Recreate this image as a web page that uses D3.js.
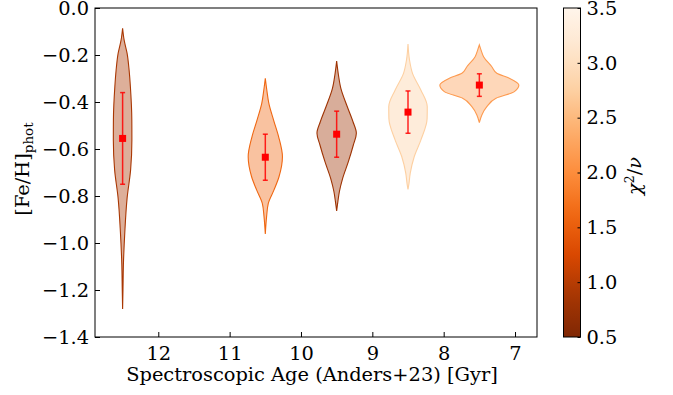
<!DOCTYPE html>
<html><head><meta charset="utf-8">
<script src="https://cdn.jsdelivr.net/npm/d3@7"></script>
<style>
body{margin:0;background:#fff}
text{font-family:"DejaVu Serif",serif;fill:#000}
</style></head>
<body><svg id="c" width="673" height="395"></svg>
<script>
// ---- data ----
const ages = [12.5, 10.5, 9.5, 8.5, 7.5];           // violin positions (Gyr)
const chi2 = [0.9, 1.6, 0.8, 2.75, 2.15];            // chi^2/nu colour values
const meanFe = [-0.555, -0.635, -0.537, -0.443, -0.328];
const errFe  = [0.195, 0.098, 0.098, 0.090, 0.048];
// violin profiles: [ [Fe/H], half width (Gyr) ]
const prof1 = [[-0.086,0],[-0.136,0.021],[-0.193,0.063],[-0.264,0.091],[-0.335,0.109],[-0.477,0.129],[-0.562,0.130],[-0.689,0.112],[-0.809,0.063],[-0.953,0.031],[-1.094,0.011],[-1.20,0.005],[-1.281,0]];
const prof2 = [[-0.299,0],[-0.349,0.021],[-0.405,0.049],[-0.477,0.116],[-0.548,0.187],[-0.633,0.240],[-0.718,0.192],[-0.774,0.122],[-0.831,0.042],[-0.888,0.018],[-0.962,0]];
const prof3 = [[-0.226,0],[-0.285,0.025],[-0.342,0.059],[-0.413,0.140],[-0.484,0.229],[-0.533,0.276],[-0.583,0.234],[-0.654,0.164],[-0.725,0.084],[-0.782,0.038],[-0.824,0.017],[-0.864,0]];
const prof4 = [[-0.153,0],[-0.221,0.021],[-0.278,0.063],[-0.349,0.180],[-0.420,0.270],[-0.470,0.268],[-0.562,0.180],[-0.633,0.087],[-0.704,0.031],[-0.746,0.014],[-0.772,0]];
const prof5 = [[-0.157,0],[-0.179,0.024],[-0.207,0.059],[-0.250,0.175],[-0.278,0.245],[-0.299,0.421],[-0.328,0.554],[-0.356,0.491],[-0.384,0.234],[-0.420,0.105],[-0.455,0.035],[-0.488,0]];
const profiles = [prof1, prof2, prof3, prof4, prof5];
const xTicks = [12, 11, 10, 9, 8, 7];
const yTicks = [0.0, -0.2, -0.4, -0.6, -0.8, -1.0, -1.2, -1.4];
const cTicks = [0.5, 1.0, 1.5, 2.0, 2.5, 3.0, 3.5];
const orangesStops = ["#fff5eb","#fee6ce","#fdd0a2","#fdae6b","#fd8d3c","#f16913","#d94801","#a63603","#7f2704"];

// ---- layout ----
const svg = d3.select("#c");
const L=95, R=537, T=8, B=337;
const x = d3.scaleLinear().domain([12.887, 6.692]).range([L, R]);
const y = d3.scaleLinear().domain([0, -1.4]).range([T, B]);
const oranges = d3.piecewise(d3.interpolateRgb, orangesStops);
const cmap = v => oranges(1 - (v - 0.5) / 3);   // Oranges_r on [0.5,3.5]
const minus = s => s.replace("-", "\u2212");

// violins
const g = svg.append("g");
profiles.forEach((p, i) => {
  const a = ages[i];
  const area = d3.area()
    .y(d => y(d[0]))
    .x0(d => x(a + d[1]))
    .x1(d => x(a - d[1]))
    .curve(d3.curveMonotoneY);
  const col = cmap(chi2[i]);
  g.append("path").attr("d", area(p))
    .attr("fill", col).attr("fill-opacity", 0.4)
    .attr("stroke", col).attr("stroke-width", 1.1);
});
// error bars
ages.forEach((a, i) => {
  const cx = x(a), y1 = y(meanFe[i] + errFe[i]), y2 = y(meanFe[i] - errFe[i]);
  const eb = g.append("g").attr("stroke", "#ff0000").attr("stroke-opacity", 0.85).attr("stroke-width", 1.5);
  eb.append("line").attr("x1", cx).attr("x2", cx).attr("y1", y1).attr("y2", y2);
  eb.append("line").attr("x1", cx-2.5).attr("x2", cx+2.5).attr("y1", y1).attr("y2", y1);
  eb.append("line").attr("x1", cx-2.5).attr("x2", cx+2.5).attr("y1", y2).attr("y2", y2);
  g.append("rect").attr("x", cx-3.5).attr("y", y(meanFe[i])-3.5).attr("width", 7).attr("height", 7).attr("fill", "#ff0000");
});

// axes
const fs = 19.4;
const xa = svg.append("g").attr("transform", `translate(0,${B})`)
  .call(d3.axisBottom(x).tickValues(xTicks).tickSize(-5).tickPadding(9).tickFormat(d3.format("d")));
const ya = svg.append("g").attr("transform", `translate(${L},0)`)
  .call(d3.axisLeft(y).tickValues(yTicks).tickSize(-5).tickPadding(6).tickFormat(d => minus(d3.format(".1f")(d))));
[xa, ya].forEach(a => {
  a.select(".domain").remove();
  a.selectAll("line").attr("stroke", "#000").attr("stroke-width", 1);
  a.selectAll("text").style("font-family", "DejaVu Serif").style("font-size", fs + "px").attr("fill", "#000");
});
svg.append("rect").attr("x", L).attr("y", T).attr("width", R-L).attr("height", B-T)
  .attr("fill", "none").attr("stroke", "#000").attr("stroke-width", 1);

// axis labels
svg.append("text").attr("x", (L+R)/2 - 4).attr("y", 381).attr("text-anchor", "middle")
  .style("font-size", fs + "px").text("Spectroscopic Age (Anders+23) [Gyr]");
const yl = svg.append("text").attr("transform", "translate(29,169) rotate(-90)")
  .attr("text-anchor", "middle").style("font-size", fs + "px");
yl.append("tspan").text("[Fe/H]");
yl.append("tspan").attr("dy", 4).style("font-size", "13.5px").text("phot");

// colorbar
const CL=563.5, CR=580.5;
const cy = d3.scaleLinear().domain([0.5, 3.5]).range([B, T]);
const defs = svg.append("defs");
const grad = defs.append("linearGradient").attr("id", "cg").attr("x1", 0).attr("x2", 0).attr("y1", 1).attr("y2", 0);
d3.range(0, 1.0001, 0.05).forEach(t => grad.append("stop").attr("offset", t).attr("stop-color", cmap(0.5 + 3*t)));
svg.append("rect").attr("x", CL).attr("y", T).attr("width", CR-CL).attr("height", B-T).attr("fill", "url(#cg)");
const ca = svg.append("g").attr("transform", `translate(${CR},0)`)
  .call(d3.axisRight(cy).tickValues(cTicks).tickSize(-3).tickPadding(6).tickFormat(d3.format(".1f")));
ca.select(".domain").remove();
ca.selectAll("line").attr("stroke", "#000");
ca.selectAll("text").style("font-family", "DejaVu Serif").style("font-size", fs + "px").attr("fill", "#000");
svg.append("rect").attr("x", CL).attr("y", T).attr("width", CR-CL).attr("height", B-T)
  .attr("fill", "none").attr("stroke", "#000").attr("stroke-width", 1);
const cl = svg.append("text").attr("transform", "translate(641,176) rotate(-90)")
  .attr("text-anchor", "middle").style("font-size", fs + "px");
cl.append("tspan").style("font-style", "italic").text("\u03c7");
cl.append("tspan").attr("dy", -7).style("font-size", "12.5px").text("2");
cl.append("tspan").attr("dy", 7).text("/");
cl.append("tspan").style("font-style", "italic").text("\u03bd");
</script></body></html>
